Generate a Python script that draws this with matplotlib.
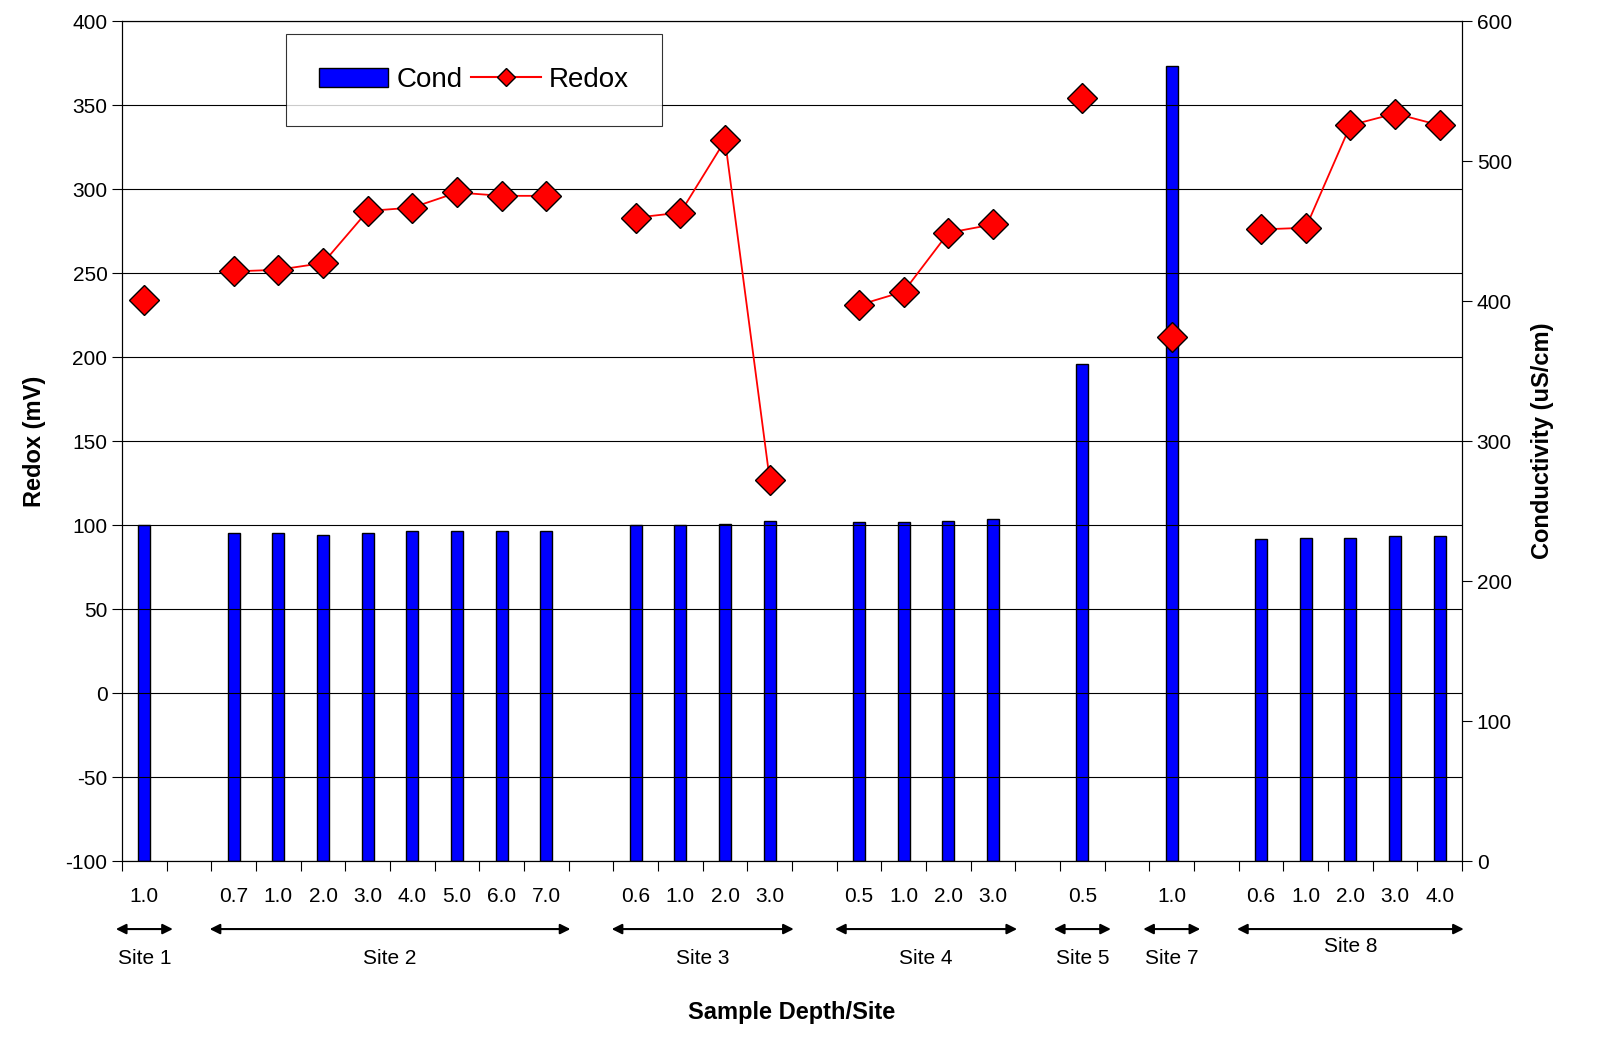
import numpy as np
import matplotlib.pyplot as plt
from matplotlib.lines import Line2D
from matplotlib.patches import Patch

plt.rcParams['font.family'] = ['Liberation Sans', 'DejaVu Sans']
plt.rcParams['axes.unicode_minus'] = False

# sites, depths and values (None = empty spacer slot)
sites = ["Site 1", "Site 2", "Site 3", "Site 4", "Site 5", "Site 7", "Site 8"]
depths = [["1.0"],
          ["0.7", "1.0", "2.0", "3.0", "4.0", "5.0", "6.0", "7.0"],
          ["0.6", "1.0", "2.0", "3.0"],
          ["0.5", "1.0", "2.0", "3.0"],
          ["0.5"],
          ["1.0"],
          ["0.6", "1.0", "2.0", "3.0", "4.0"]]
redox = [[234],
         [251, 252, 256, 287, 289, 298, 296, 296],
         [283, 286, 329, 127],
         [231, 239, 274, 279],
         [354],
         [212],
         [276, 277, 338, 345, 338]]
cond = [[240],
        [234, 234, 233, 234, 236, 236, 236, 236],
        [240, 240, 241, 243],
        [242, 242, 243, 244],
        [355],
        [568],
        [230, 231, 231, 232, 232]]

fig = plt.figure(figsize=(16.12, 10.57), dpi=100)
ax = fig.add_axes([0.0757, 0.1854, 0.8313, 0.7946])
ax2 = ax.twinx()

pos = 0
ticklabels = []
site_ranges = []
for s, d, r, c in zip(sites, depths, redox, cond):
    x = np.arange(pos, pos + len(d))
    ax2.bar(x, c, width=0.27, color='#0000ff', edgecolor='black', linewidth=1, zorder=2)
    ax.plot(x, r, color='red', lw=1.3, marker='D', ms=15, mfc='red', mec='black', mew=1, zorder=5)
    ticklabels += list(zip(x, d))
    site_ranges.append((s, x[0], x[-1]))
    pos += len(d) + 1
nslots = pos - 1

ax.set_zorder(ax2.get_zorder() + 1)
ax.patch.set_visible(False)

ax.set_xlim(-0.5, nslots - 0.5)
ax.set_ylim(-100, 400)
ax.set_yticks(np.arange(-100, 401, 50))
ax2.set_ylim(0, 600)
ax2.set_yticks(np.arange(0, 601, 100))
ax.grid(axis='y', color='black', lw=0.8)
ax.set_axisbelow(True)

ax.set_xticks(np.arange(-0.5, nslots, 1))
ax.set_xticklabels([])
ax.tick_params(axis='x', length=7, direction='out')
ax.tick_params(axis='y', length=7, labelsize=15)
ax2.tick_params(axis='y', length=7, labelsize=15)
trans = ax.get_xaxis_transform()
for x, d in ticklabels:
    ax.text(x, -0.042, d, ha='center', va='center', fontsize=15, transform=trans)

ax.set_ylabel("Redox (mV)", fontsize=17, fontweight='bold', labelpad=14)
ax2.set_ylabel("Conductivity (uS/cm)", fontsize=17, fontweight='bold', labelpad=14)
ax.text((nslots - 1) / 2, -0.18, "Sample Depth/Site", ha='center', va='center',
        fontsize=17, fontweight='bold', transform=trans)

for s, a, b in site_ranges:
    pad = 0.6 if a != b else 0.7
    ax.annotate("", xy=(a - pad, -0.081), xytext=(b + pad, -0.081), xycoords=trans,
                textcoords=trans, annotation_clip=False,
                arrowprops=dict(arrowstyle='<|-|>', color='black', lw=1.5, mutation_scale=15))
    yl = -0.102 if s == "Site 8" else -0.116
    ax.text((a + b) / 2, yl, s, ha='center', va='center', fontsize=15, transform=trans)

handles = [Patch(facecolor='#0000ff', edgecolor='black'),
           Line2D([], [], color='red', marker='D', mfc='red', mec='black', ms=9)]
leg = ax.legend(handles, ["Cond", "Redox"], loc='upper left', bbox_to_anchor=(0.122, 0.985),
                ncol=2, fontsize=20, frameon=True, fancybox=False, edgecolor='black',
                borderpad=1.2, handlelength=2.5, columnspacing=0.3, handletextpad=0.3,
                borderaxespad=0)
leg.get_frame().set_linewidth(0.8)

fig.savefig("out.png", dpi=100)
